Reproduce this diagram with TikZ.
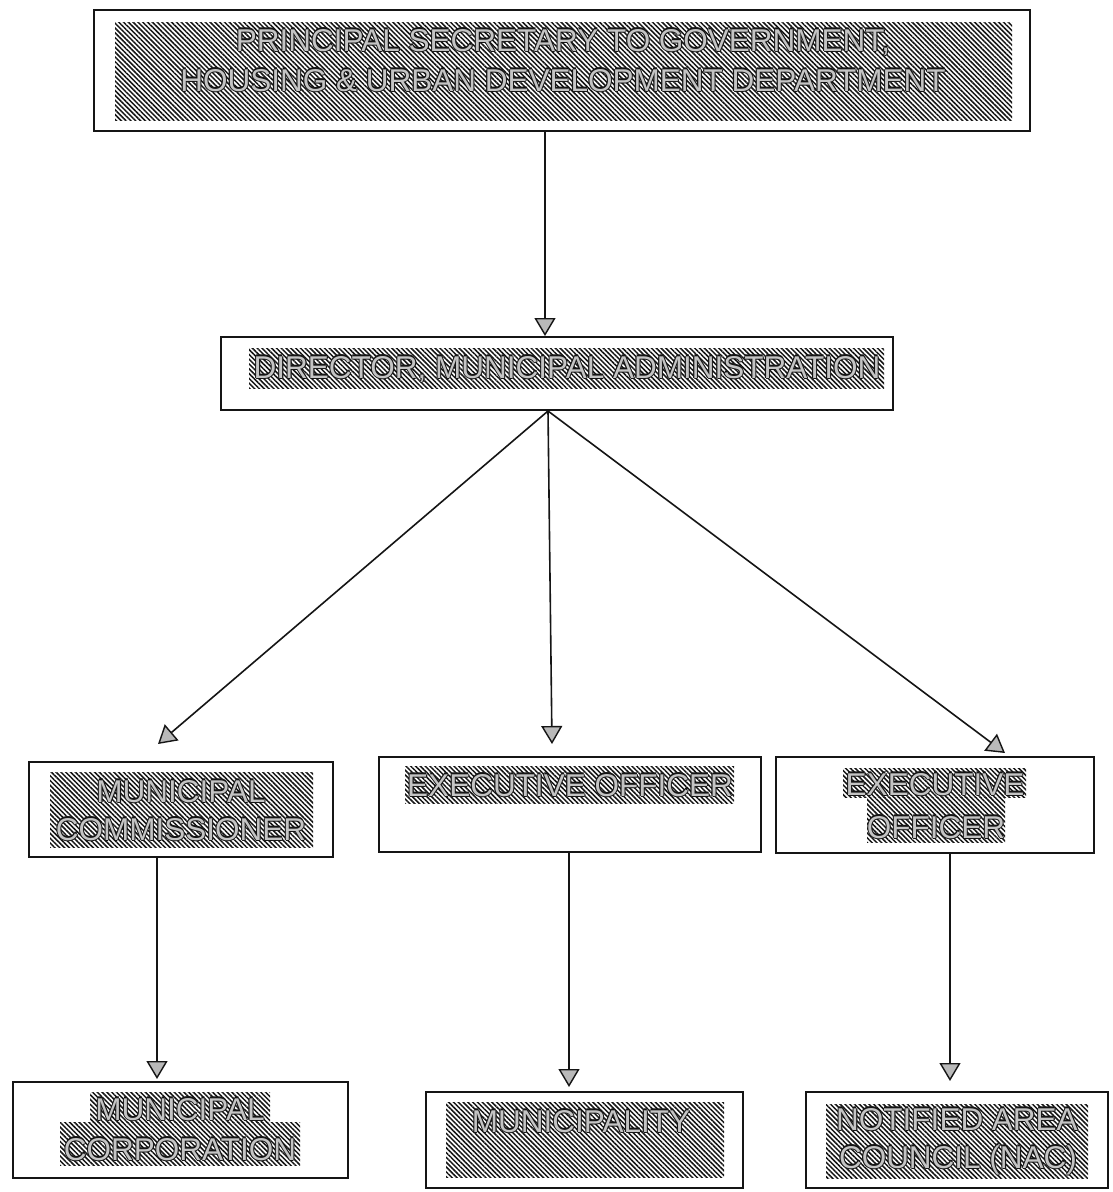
\documentclass[tikz,border=0pt]{standalone}
\usepackage{fontspec}
\setmainfont{Liberation Sans}
\usetikzlibrary{arrows.meta,patterns.meta,calc,fit}
\definecolor{ink}{HTML}{151515}
\definecolor{letterfill}{HTML}{C4C4C4}
\newcommand\olt[1]{\leavevmode
 \rlap{\color{ink}\hspace*{-1.1pt}#1}%
 \rlap{\color{ink}\hspace*{1.1pt}#1}%
 \rlap{\color{ink}\raisebox{1.1pt}{#1}}%
 \rlap{\color{ink}\raisebox{-1.1pt}{#1}}%
 {\color{letterfill}#1}}
\tikzset{
  box/.style={draw=ink, line width=2pt, inner sep=0pt},
  hatch/.style={pattern={Lines[angle=-45,distance=3.4pt,line width=1.5pt]}, pattern color=ink},
  lbl/.style={anchor=base, inner sep=0pt, font=\fontsize{31.5}{37}\selectfont},
  arr/.style={draw=ink, line width=1.6pt, -{Triangle[width=21pt,length=18pt,fill=gray!55,line width=1.4pt]}}
}
\begin{document}
\begin{tikzpicture}[x=1pt,y=1pt]
\useasboundingbox (0,0) rectangle (1112,-1192);
\fill[white] (0,0) rectangle (1112,-1192);

% boxes
\node[box, fit={(94,-10) (1030,-131)}] (top) {};
\node[box, fit={(221,-337) (893,-410)}] (dir) {};
\node[box, fit={(29,-762) (333,-857)}] (comm) {};
\node[box, fit={(379,-757) (761,-852)}] (mid) {};
\node[box, fit={(776,-757) (1094,-853)}] (rexec) {};
\node[box, fit={(13,-1082) (348,-1178)}] (corp) {};
\node[box, fit={(426,-1092) (743,-1188)}] (muni) {};
\node[box, fit={(806,-1092) (1108,-1188)}] (nac) {};

% hatched panels
\fill[hatch] (115,-22) rectangle (1012,-120);
\fill[hatch] (249,-348) rectangle (884,-388);
\fill[hatch] (50,-772) rectangle (313,-847);
\fill[hatch] (405,-766) rectangle (734,-803);
\fill[hatch] (843,-768) rectangle (1026,-797);
\fill[hatch] (867,-797) rectangle (1005,-842);
\fill[hatch] (90,-1092) rectangle (270,-1122);
\fill[hatch] (60,-1122) rectangle (300,-1165);
\fill[hatch] (446,-1102) rectangle (724,-1177);
\fill[hatch] (826,-1104) rectangle (1088,-1178);

% labels
\node[lbl] (topA) at (563,-51) {\olt{PRINCIPAL SECRETARY TO GOVERNMENT,}};
\node[lbl] (topB) at (563,-91) {\olt{HOUSING \& URBAN DEVELOPMENT DEPARTMENT}};
\node[lbl] (dirA) at (567,-378) {\olt{DIRECTOR, MUNICIPAL ADMINISTRATION}};
\node[lbl] (commA) at (181,-802) {\olt{MUNICIPAL}};
\node[lbl] (commB) at (181,-840) {\olt{COMMISSIONER}};
\node[lbl] (midA) at (570,-796) {\olt{EXECUTIVE OFFICER}};
\node[lbl] (rexA) at (935,-795) {\olt{EXECUTIVE}};
\node[lbl] (rexB) at (936,-838) {\olt{OFFICER}};
\node[lbl] (corpA) at (180,-1120) {\olt{MUNICIPAL}};
\node[lbl] (corpB) at (180,-1160) {\olt{CORPORATION}};
\node[lbl] (muniA) at (581,-1132) {\olt{MUNICIPALITY}};
\node[lbl] (nacA) at (957,-1130) {\olt{NOTIFIED AREA}};
\node[lbl] (nacB) at (958,-1168) {\olt{COUNCIL (NAC)}};

% connectors
\draw[arr] ($(top.south)+(-17,0)$) -- ($(dir.north)+(-12,0)$);
\draw[arr] ($(dir.south)+(-9,0)$) -- ($(comm.north)+(-23,17)$);
\draw[arr] ($(dir.south)+(-9,0)$) -- ($(mid.north)+(-18,12)$);
\draw[arr] ($(dir.south)+(-9,0)$) -- ($(rexec.north)+(70,3)$);
\draw[arr] ($(comm.south)+(-24,0)$) -- ($(corp.north)+(-23.5,2)$);
\draw[arr] ($(mid.south)+(-1,0)$) -- ($(muni.north)+(-15.5,4)$);
\draw[arr] ($(rexec.south)+(15,0)$) -- ($(nac.north)+(-7,10)$);
\end{tikzpicture}
\end{document}
